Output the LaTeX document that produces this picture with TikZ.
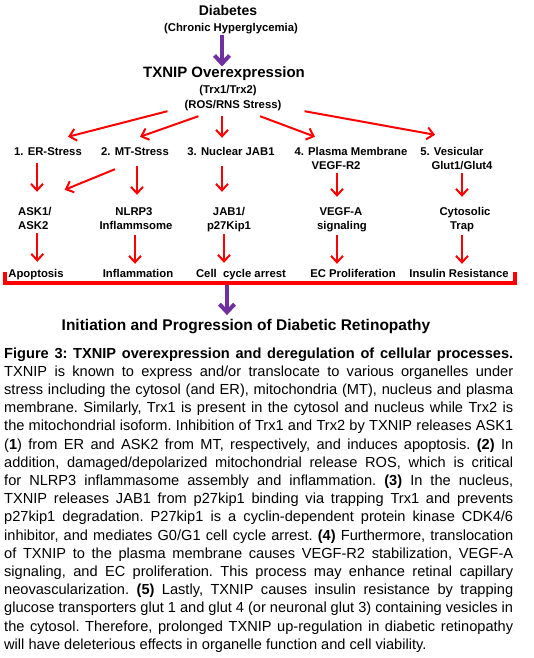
\documentclass[tikz,border=0pt]{standalone}
\usepackage{fontspec}
\setmainfont{Liberation Sans}
\usetikzlibrary{arrows.meta}
\definecolor{purp}{RGB}{112,48,160}
\tikzset{
  txt/.style={inner sep=0pt, font=\bfseries\fontsize{11.3}{13}\selectfont, text height=8.5pt, text depth=2.5pt},
  head/.style={inner sep=0pt, font=\bfseries\fontsize{#1}{#1}\selectfont},
  rarr/.style={draw=red, line width=2pt, -{Straight Barb[length=6.5pt,width=12pt]}},
  parr/.style={draw=purp, line width=4pt, -{Straight Barb[length=8pt,width=15pt]}},
  captext/.style={inner sep=0pt, text width=509pt, align=justify, font=\fontsize{14.6}{18.2}\selectfont}
}
\begin{document}
\begin{tikzpicture}[x=1pt,y=-1pt]
\fill[white] (0,0) rectangle (534,658);
\useasboundingbox (0,0) rectangle (534,658);

\node[head=14, anchor=base] (diab) at (228,16) {Diabetes};
\node[txt, anchor=base] (chron) at (231,32) {(Chronic Hyperglycemia)};
\node[head=15, anchor=base] (txnip) at (224,77.5) {TXNIP Overexpression};
\node[txt, anchor=base] (trx) at (228,94) {(Trx1/Trx2)};
\node[txt, anchor=base] (ros) at (233,108.5) {(ROS/RNS Stress)};
\draw[parr] ([xshift=-9pt]chron.south) -- ([xshift=-2pt]txnip.north);

\node[txt, anchor=base] (er) at (48,155) {1. ER-Stress};
\node[txt, anchor=base] (mt) at (135,155) {2. MT-Stress};
\node[txt, anchor=base] (nuc) at (231,155) {3. Nuclear JAB1};
\node[txt, anchor=base] (pm) at (351,155) {4. Plasma Membrane};
\node[txt, anchor=base] (pm2) at (336,169) {VEGF-R2};
\node[txt, anchor=base] (ves) at (452,155) {5. Vesicular};
\node[txt, anchor=base] (ves2) at (462,169) {Glut1/Glut4};

\draw[rarr] ([xshift=-17pt]ros.south west) -- ([shift={(20pt,9.5pt)}]er.north);
\draw[rarr] ([shift={(14pt,-5pt)}]ros.south west) -- ([shift={(5pt,9.5pt)}]mt.north);
\draw[rarr] ([shift={(-11pt,-5pt)}]ros.south) -- ([shift={(-9pt,8.5pt)}]nuc.north);
\draw[rarr] ([shift={(27pt,-5pt)}]ros.south) -- ([shift={(-36pt,9.5pt)}]pm.north);
\draw[rarr] ([xshift=23pt]ros.south east) -- ([shift={(-17pt,11.5pt)}]ves.north);

\node[txt, anchor=base west] (ask1) at (18,215) {ASK1/};
\node[txt, anchor=base west] (ask2) at (18,229) {ASK2};
\node[txt, anchor=base] (nl1) at (134,215) {NLRP3};
\node[txt, anchor=base] (nl2) at (136,229) {Inflammsome};
\node[txt, anchor=base] (jab1) at (229,215) {JAB1/};
\node[txt, anchor=base] (jab2) at (229,229) {p27Kip1};
\node[txt, anchor=base] (vg1) at (341,215) {VEGF-A};
\node[txt, anchor=base] (vg2) at (342,229) {signaling};
\node[txt, anchor=base] (cy1) at (465,215) {Cytosolic};
\node[txt, anchor=base] (cy2) at (462,229) {Trap};

\draw[rarr, shorten <=5.5pt, shorten >=14.5pt] ([xshift=-11pt]er.south) -- ([xshift=-11pt]er.south |- ask1.north);
\draw[rarr] ([shift={(-20pt,-11.5pt)}]mt.south) -- ([shift={(13pt,16.5pt)}]ask1.north east);
\draw[rarr, shorten <=8.5pt, shorten >=11.5pt] ([xshift=2pt]mt.south) -- ([xshift=2pt]mt.south |- nl1.north);
\draw[rarr, shorten <=8.5pt, shorten >=14.5pt] ([xshift=-9pt]nuc.south) -- ([xshift=-9pt]nuc.south |- jab1.north);
\draw[rarr, shorten <=1.5pt, shorten >=9.5pt] ([xshift=1pt]pm2.south) -- ([xshift=1pt]pm2.south |- vg1.north);
\draw[rarr, shorten <=1.5pt, shorten >=9.5pt] (ves2.south) -- (ves2.south |- cy1.north);

\node[txt, anchor=base] (apo) at (36,277) {Apoptosis};
\node[txt, anchor=base] (infl) at (138,277) {Inflammation};
\node[txt, anchor=base] (cca) at (241,277) {Cell\ \ cycle arrest};
\node[txt, anchor=base] (ecp) at (353,277) {EC Proliferation};
\node[txt, anchor=base] (ins) at (459,277) {Insulin Resistance};

\draw[rarr, shorten <=1.5pt, shorten >=6.5pt] ([xshift=4pt]ask2.south) -- ([xshift=4pt]ask2.south |- apo.north);
\draw[rarr, shorten <=3.5pt, shorten >=4.5pt] ([xshift=-1pt]nl2.south) -- ([xshift=-1pt]nl2.south |- infl.north);
\draw[rarr, shorten <=2.5pt, shorten >=5.5pt] ([xshift=-5pt]jab2.south) -- ([xshift=-5pt]jab2.south |- cca.north);
\draw[rarr, shorten <=3.5pt, shorten >=4.5pt] ([xshift=-5pt]vg2.south) -- ([xshift=-5pt]vg2.south |- ecp.north);
\draw[rarr, shorten <=3.5pt, shorten >=4.5pt] (cy2.south) -- (cy2.south |- ins.north);

\draw[red, line width=3.5pt] (5,272) -- (5,283) -- (515,283) -- (515,272);
\coordinate (brk) at (227,283);
\node[head=15.5, anchor=base] (dr) at (246,330.5) {Initiation and Progression of Diabetic Retinopathy};
\draw[parr, shorten <=2pt, shorten >=4pt] (brk) -- (brk |- dr.north);

\node[captext, anchor=north west] (capt) at (4,347.4) {\frenchspacing\hyphenpenalty=10000 \exhyphenpenalty=10000 \tolerance=10000
\textbf{Figure 3: TXNIP overexpression and deregulation of cellular processes.}\linebreak
TXNIP is known to express and/or translocate to various organelles under\linebreak
stress including the cytosol (and ER), mitochondria (MT), nucleus and plasma\linebreak
membrane. Similarly, Trx1 is present in the cytosol and nucleus while Trx2 is\linebreak
the mitochondrial isoform. Inhibition of Trx1 and Trx2 by TXNIP releases ASK1\linebreak
(\textbf{1}) from ER and ASK2 from MT, respectively, and induces apoptosis. \textbf{(2)} In\linebreak
addition, damaged/depolarized mitochondrial release ROS, which is critical\linebreak
for NLRP3 inflammasome assembly and inflammation. \textbf{(3)} In the nucleus,\linebreak
TXNIP releases JAB1 from p27kip1 binding via trapping Trx1 and prevents\linebreak
p27kip1 degradation. P27kip1 is a cyclin-dependent protein kinase CDK4/6\linebreak
inhibitor, and mediates G0/G1 cell cycle arrest. \textbf{(4)} Furthermore, translocation\linebreak
of TXNIP to the plasma membrane causes VEGF-R2 stabilization, VEGF-A\linebreak
signaling, and EC proliferation. This process may enhance retinal capillary\linebreak
neovascularization. \textbf{(5)} Lastly, TXNIP causes insulin resistance by trapping\linebreak
glucose transporters glut 1 and glut 4 (or neuronal glut 3) containing vesicles in\linebreak
the cytosol. Therefore, prolonged TXNIP up-regulation in diabetic retinopathy\linebreak
will have deleterious effects in organelle function and cell viability.};
\end{tikzpicture}
\end{document}
